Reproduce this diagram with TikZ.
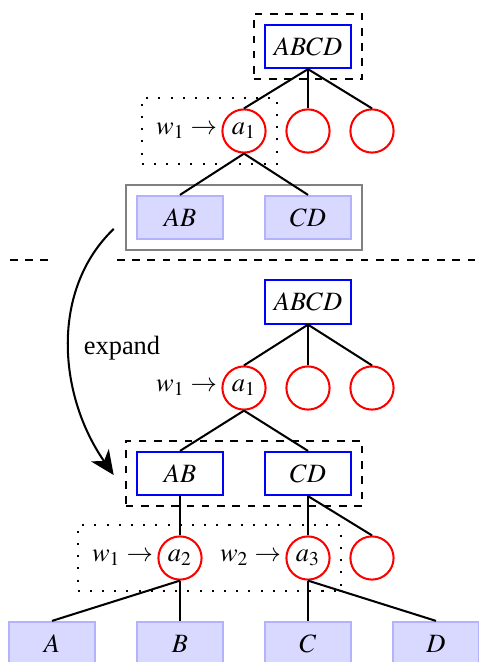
\documentclass[tikz,border=0pt]{standalone}
\usepackage{mathptmx}
\usepackage{fontspec}
\setmainfont{Liberation Serif}
\usetikzlibrary{arrows.meta,fit}
\begin{document}
\begin{tikzpicture}[x=0.3937pt,y=-0.3937pt,
  every node/.style={font=\fontsize{10.4pt}{12pt}\selectfont},
  vbox/.style={draw=blue, thick, minimum width=34pt, minimum height=17pt, inner sep=0pt},
  lbox/.style={draw=blue!30, fill=blue!15, thick, minimum width=34pt, minimum height=17pt, inner sep=0pt},
  act/.style={circle, draw=red, thick, minimum size=17pt, inner sep=0pt},
  wlab/.style={anchor=east, inner sep=1.5pt},
  link/.style={thick},
  dashbox/.style={draw, thick, dashed, inner sep=4pt},
  dotbox/.style={draw, thick, loosely dotted, inner sep=4pt},
  graybox/.style={draw=gray, thick, inner sep=4pt}]
\useasboundingbox (0,0) rectangle (478,662);
% ---------- top tree ----------
\node[vbox] (tR) at (308,46.5) {$ABCD$};
\node[act] (t1) at (244,131) {$a_1$};
\node[act] (t2) at (308,131) {};
\node[act] (t3) at (372,131) {};
\node[wlab] (tw) at (t1.west) {$w_1\rightarrow$};
\node[lbox] (tAB) at (180,217.5) {$AB$};
\node[lbox] (tCD) at (308,217.5) {$CD$};
\node[dashbox, fit=(tR)] (tRbox) {};
\node[dotbox, fit=(tw)(t1)] (tdot) {};
\node[graybox, fit=(tAB)(tCD)] (gbox) {};
\draw[link] (tR.south) -- (t1.north);
\draw[link] (tR.south) -- (t2.north);
\draw[link] (tR.south) -- (t3.north);
\draw[link] (t1.south) -- (tAB.north);
\draw[link] (t1.south) -- (tCD.north);
% ---------- separator ----------
\coordinate (s1) at (10,260);
\coordinate (s2) at (52,260);
\coordinate (s3) at (117,260);
\coordinate (s4) at (478,260);
\draw[thick, dashed] (s1) -- (s2);
\draw[thick, dashed] (s3) -- (s4);
% ---------- bottom tree ----------
\node[vbox] (bR) at (308,302) {$ABCD$};
\node[act] (b1) at (244,388) {$a_1$};
\node[act] (b2) at (308,388) {};
\node[act] (b3) at (372,388) {};
\node[wlab] (bw) at (b1.west) {$w_1\rightarrow$};
\node[vbox] (bAB) at (180,473.5) {$AB$};
\node[vbox] (bCD) at (308,473.5) {$CD$};
\node[dashbox, fit=(bAB)(bCD)] (bbox) {};
\node[act] (c2) at (180,558) {$a_2$};
\node[act] (c3) at (308,558) {$a_3$};
\node[act] (c4) at (372,558) {};
\node[wlab] (cw1) at (c2.west) {$w_1\rightarrow$};
\node[wlab] (cw2) at (c3.west) {$w_2\rightarrow$};
\node[dotbox, fit=(cw1)(c3)] (cdot) {};
\node[lbox] (lA) at (52,643.5) {$A$};
\node[lbox] (lB) at (180,643.5) {$B$};
\node[lbox] (lC) at (308,643.5) {$C$};
\node[lbox] (lD) at (436,643.5) {$D$};
\draw[link] (bR.south) -- (b1.north);
\draw[link] (bR.south) -- (b2.north);
\draw[link] (bR.south) -- (b3.north);
\draw[link] (b1.south) -- (bAB.north);
\draw[link] (b1.south) -- (bCD.north);
\draw[link] (bAB.south) -- (c2.north);
\draw[link] (bCD.south) -- (c3.north);
\draw[link] (bCD.south) -- (c4.north);
\draw[link] (c2.south) -- (lA.north);
\draw[link] (c2.south) -- (lB.north);
\draw[link] (c3.south) -- (lC.north);
\draw[link] (c3.south) -- (lD.north);
% ---------- expand arrow ----------
\coordinate (as) at ([xshift=-4.3pt,yshift=-4.5pt]gbox.west);
\coordinate (ae) at ([xshift=-4.3pt,yshift=-0.6pt]bbox.west);
\draw[thick, -{Stealth[length=9.5pt,width=8.5pt,inset=2.8pt]}] (as) .. controls (50,290) and (58,395) .. (ae);
\node (ex) at (122,348) {expand};
\end{tikzpicture}
\end{document}
